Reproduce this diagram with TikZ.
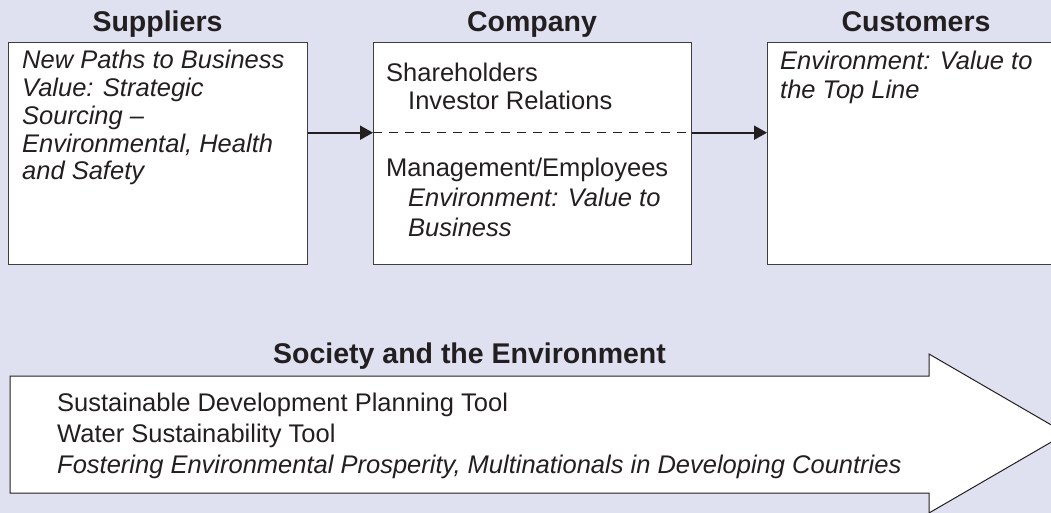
\documentclass[tikz,border=0pt]{standalone}
\usepackage{fontspec}
\setmainfont{Liberation Sans}
\usetikzlibrary{arrows.meta}
\definecolor{bg}{RGB}{223,225,240}
\definecolor{ink}{RGB}{35,31,32}
\definecolor{edge}{RGB}{62,62,62}
\begin{document}
\begin{tikzpicture}[x=1pt,y=-1pt,
  box/.style={draw=edge, line width=1.3pt, fill=white, inner sep=0pt, anchor=north west},
  head/.style={inner sep=0pt, text=ink, anchor=base, font=\fontsize{28.5}{30}\selectfont\bfseries},
  txt/.style={inner sep=0pt, text=ink, anchor=base west, font=\fontsize{25.5}{#1}\selectfont},
  txt/.default=27.7,
  conn/.style={draw=ink, line width=2pt, -{Triangle[length=13pt,width=14pt]}},
  dashline/.style={draw=ink, line width=1.3pt, dash pattern=on 9pt off 7pt},
  bigarrow/.style={draw=ink, line width=1pt, fill=white, line join=miter}]
\useasboundingbox (0,0) rectangle (1051,513);
\fill[bg] (0,0) rectangle (1051,513);
% boxes
\node[box, minimum width=299pt, minimum height=222pt] (sup) at (8,42) {};
\node[box, minimum width=318pt, minimum height=222pt] (comp) at (373,42) {};
\node[box, minimum width=298pt, minimum height=222pt] (cust) at (767,42) {};
% headings
\node[head] (suph) at (157.5,32) {Suppliers};
\node[head] (comph) at (532,32) {Company};
\node[head] (custh) at (916,32) {Customers};
% connectors
\coordinate (mid) at (0,132.7);
\draw[conn] (sup.east |- mid) -- (comp.west |- mid);
\draw[dashline] (comp.west |- mid) -- (comp.east |- mid);
\draw[conn] (comp.east |- mid) -- (cust.west |- mid);
% box texts
\node[txt] (supt) at (22,69) {\begin{tabular}[t]{@{}l@{}}
\textit{New Paths to Business}\\
\textit{Value: Strategic}\\
\textit{Sourcing \textendash}\\
\textit{Environmental, Health}\\
\textit{and Safety}\end{tabular}};
\node[txt=28.3] (compt1) at (386,81.7) {\begin{tabular}[t]{@{}l@{}}
Shareholders\\
\hspace*{22pt}Investor Relations\end{tabular}};
\node[txt=30] (compt2) at (386,176.7) {\begin{tabular}[t]{@{}l@{}}
Management/Employees\\
\hspace*{22pt}\textit{Environment: Value to}\\
\hspace*{22pt}\textit{Business}\end{tabular}};
\node[txt=28.3] (custt) at (780,70) {\begin{tabular}[t]{@{}l@{}}
\textit{Environment: Value to}\\
\textit{the Top Line}\end{tabular}};
% society arrow
\draw[bigarrow] (10,376) -- (929,376) -- (929,354) -- (1066,433.5) -- (929,513) -- (929,493) -- (10,493) -- cycle;
\node[head] (soch) at (469.5,363) {Society and the Environment};
\node[txt=30.7] (soct) at (57,411.7) {\begin{tabular}[t]{@{}l@{}}
Sustainable Development Planning Tool\\
Water Sustainability Tool\\
\textit{Fostering Environmental Prosperity, Multinationals in Developing Countries}\end{tabular}};
\end{tikzpicture}
\end{document}
